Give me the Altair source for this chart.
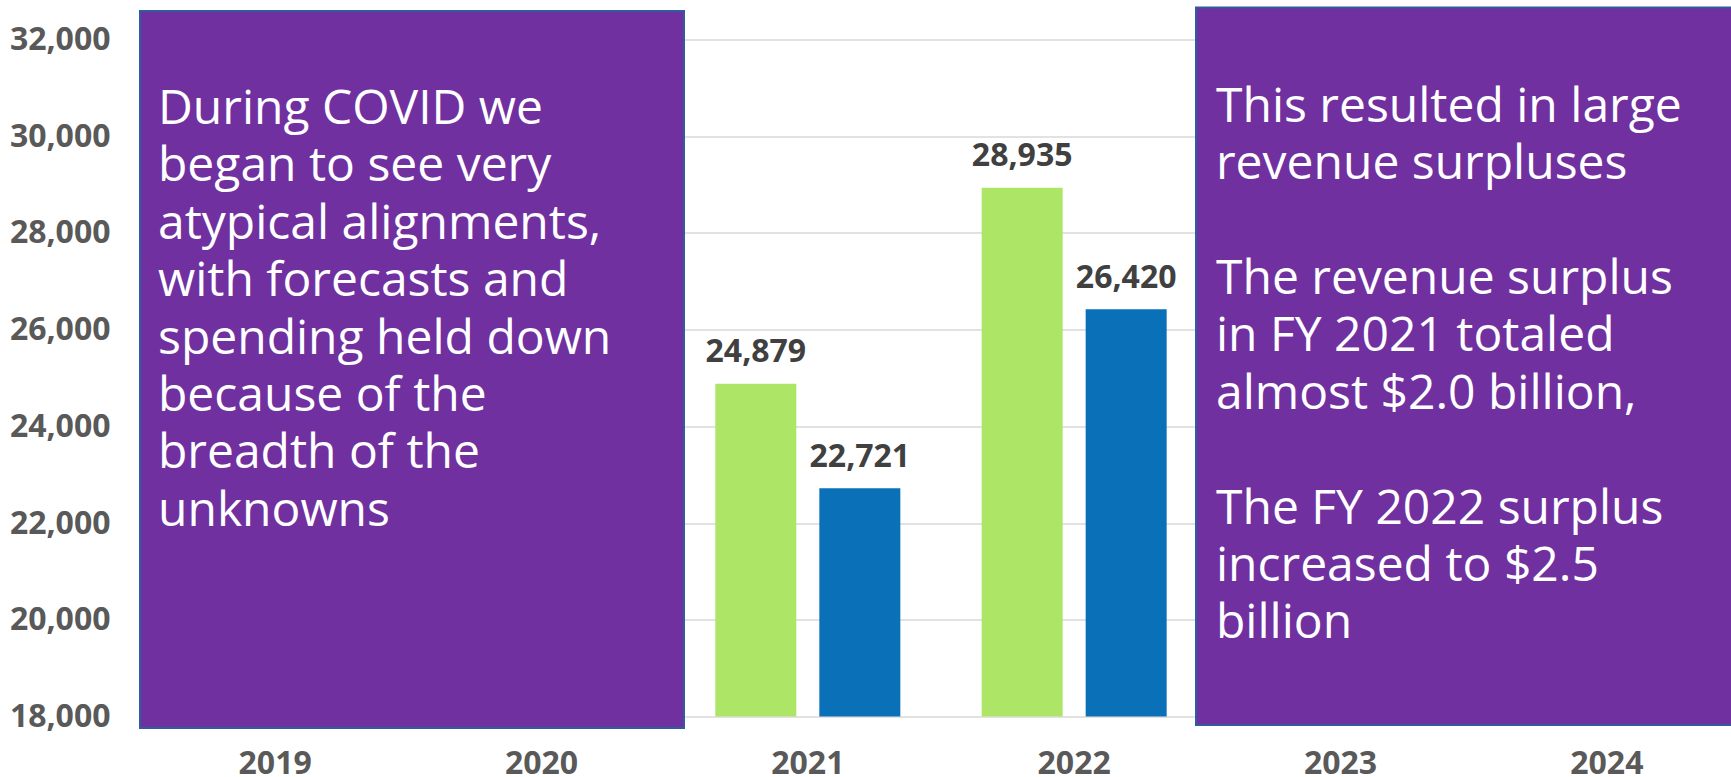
import altair as alt
import pandas as pd

# ---- data ----
years = ["2019", "2020", "2021", "2022", "2023", "2024"]
bar_years = ["2021", "2022"]
series_names = ["Revenue", "Spending"]
revenue = [24879, 28935]
spending = [22721, 26420]
y_ticks = [18000, 20000, 22000, 24000, 26000, 28000, 30000, 32000]

left_note = [
    "During COVID we",
    "began to see very",
    "atypical alignments,",
    "with forecasts and",
    "spending held down",
    "because of the",
    "breadth of the",
    "unknowns",
]
right_paragraphs = [
    ["This resulted in large", "revenue surpluses"],
    ["The revenue surplus", "in FY 2021 totaled", "almost $2.0 billion,"],
    ["The FY 2022 surplus", "increased to $2.5", "billion"],
]

rows = []
for i, yr in enumerate(bar_years):
    rows.append({"year": yr, "series": series_names[0], "value": revenue[i]})
    rows.append({"year": yr, "series": series_names[1], "value": spending[i]})
df = pd.DataFrame(rows)

FONT = "Open Sans"
W, H = 1589, 677
LINE = 57.4

xscale = alt.Scale(domain=years, range=[0, 1598], paddingInner=0, paddingOuter=0)
yscale = alt.Scale(domain=[18000, 32000], nice=False, zero=False)
offscale = alt.Scale(domain=series_names, paddingInner=0.221, paddingOuter=0.391)
color_scale = alt.Scale(domain=series_names, range=["#ADE566", "#0A70B8"])

base = alt.Chart(df)

bars = base.mark_bar(size=81).encode(
    x=alt.X("year:N", scale=xscale, sort=years,
            axis=alt.Axis(title=None, labelAngle=0, labelFontSize=32, labelFont=FONT,
                          labelFontWeight="bold", labelColor="#595959", ticks=False,
                          domain=False, labelPadding=32, grid=False)),
    xOffset=alt.XOffset("series:N", scale=offscale, sort=series_names),
    y=alt.Y("value:Q", scale=yscale,
            axis=alt.Axis(title=None, values=y_ticks, format=",.0f", labelFontSize=32,
                          labelFont=FONT, labelFontWeight="bold", labelColor="#595959",
                          ticks=False, domain=False, labelPadding=32, grid=True,
                          gridColor="#D9D9D9", gridWidth=1.5)),
    y2=alt.datum(18000),
    color=alt.Color("series:N", scale=color_scale, legend=None),
)

labels = base.mark_text(
    font=FONT, fontSize=32, fontWeight="bold", color="#404040",
    baseline="alphabetic", align="center", dy=-21.5,
).encode(
    x=alt.X("year:N", scale=xscale, sort=years),
    xOffset=alt.XOffset("series:N", scale=offscale, sort=series_names),
    y=alt.Y("value:Q", scale=yscale),
    text=alt.Text("value:Q", format=",.0f"),
)

one = alt.Chart(pd.DataFrame({"k": [0]}))

box_style = dict(color="#7030A0", stroke="#2E5C9E", strokeWidth=2)
left_box = one.mark_rect(**box_style).encode(
    x=alt.value(-2), x2=alt.value(542), y=alt.value(-28.5), y2=alt.value(688.5)
)
right_box = one.mark_rect(**box_style).encode(
    x=alt.value(1054), x2=alt.value(1610), y=alt.value(-32), y2=alt.value(685.5)
)

text_style = dict(font=FONT, fontSize=48, color="white", align="left",
                  baseline="alphabetic", lineHeight=LINE)
left_text = one.mark_text(text=left_note, **text_style).encode(
    x=alt.value(16), y=alt.value(84.5)
)

layers = [bars, labels, left_box, right_box, left_text]
start = 82.2
for para in right_paragraphs:
    layers.append(
        one.mark_text(text=para, **text_style).encode(
            x=alt.value(1074), y=alt.value(start)
        )
    )
    start += LINE * (len(para) + 1)

chart = alt.layer(*layers).properties(
    width=W, height=H,
    autosize=alt.AutoSizeParams(type="none"),
    padding={"left": 142, "top": 39.5, "right": 0, "bottom": 60.5},
    background="white",
).configure_view(stroke=None)

chart.save("out.html", embed_options={"renderer": "svg", "actions": False})
